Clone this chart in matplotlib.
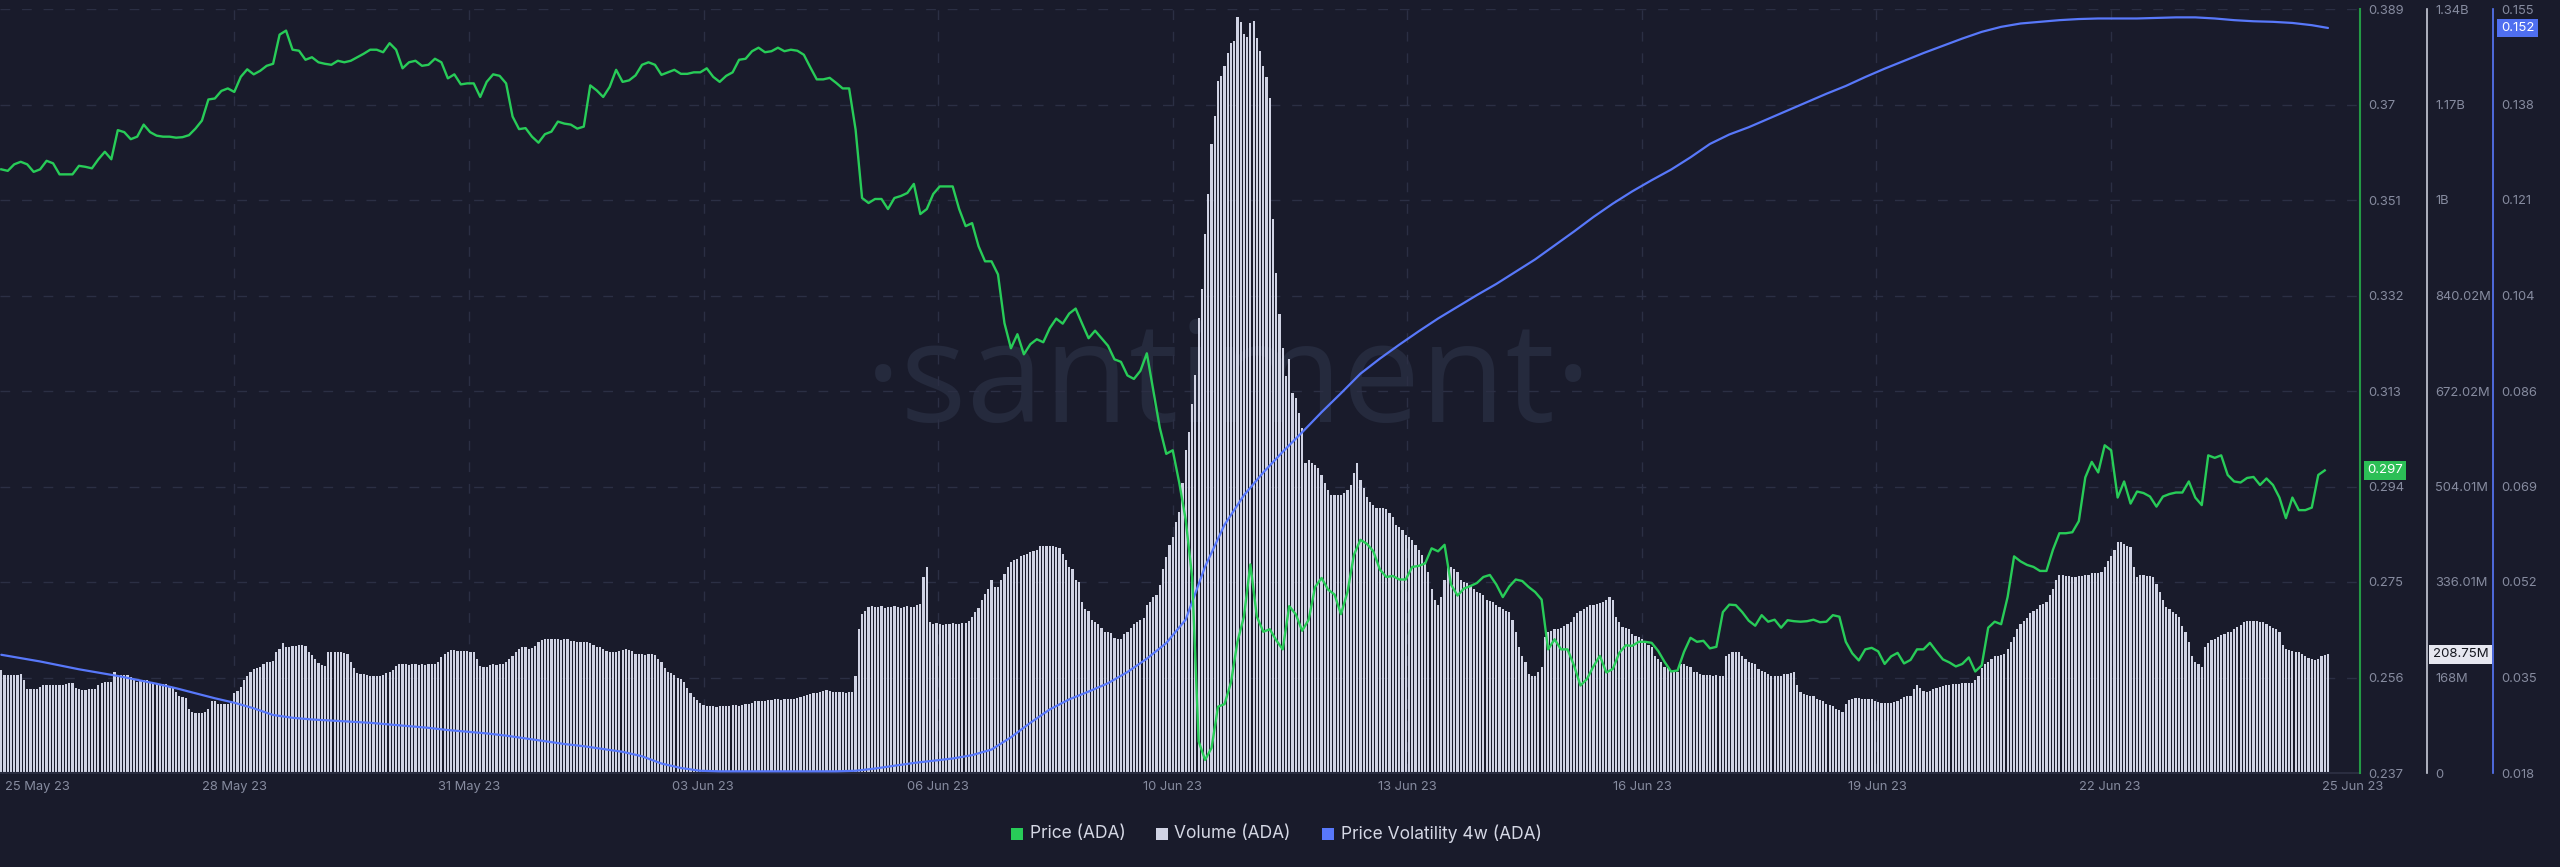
import numpy as np
import matplotlib
matplotlib.use('Agg')
import matplotlib.pyplot as plt
import matplotlib.transforms as mtrans
from matplotlib.patches import Rectangle
from matplotlib import font_manager

plt.rcParams['font.family'] = ['Inter', 'DejaVu Sans']
plt.rcParams['lines.scale_dashes'] = False

# ---------------- data ----------------
# ADA price, one value every 2 hours (25 May -> 24 Jun)
PRICE = [
0.3571,0.3568,0.3581,0.3586,0.3581,0.3566,0.3571,0.3588,0.3583,0.3561,
0.3561,0.3561,0.3578,0.3576,0.3573,0.3591,0.3606,0.3591,0.3649,0.3645,
0.3631,0.3636,0.3660,0.3645,0.3638,0.3636,0.3636,0.3634,0.3635,0.3639,
0.3652,0.3668,0.3710,0.3712,0.3727,0.3732,0.3725,0.3755,0.3770,0.3760,
0.3767,0.3777,0.3781,0.3839,0.3847,0.3809,0.3807,0.3789,0.3794,0.3784,
0.3781,0.3779,0.3787,0.3784,0.3787,0.3794,0.3801,0.3809,0.3809,0.3804,
0.3822,0.3809,0.3772,0.3784,0.3787,0.3777,0.3779,0.3791,0.3784,0.3752,
0.3760,0.3740,0.3742,0.3742,0.3715,0.3745,0.3760,0.3757,0.3742,0.3676,
0.3651,0.3653,0.3636,0.3624,0.3641,0.3646,0.3666,0.3662,0.3660,0.3652,
0.3656,0.3738,0.3728,0.3715,0.3735,0.3769,0.3745,0.3748,0.3758,0.3779,
0.3784,0.3779,0.3759,0.3764,0.3769,0.3761,0.3761,0.3764,0.3764,0.3772,
0.3755,0.3745,0.3757,0.3764,0.3789,0.3791,0.3806,0.3813,0.3804,0.3806,
0.3813,0.3806,0.3809,0.3807,0.3799,0.3774,0.3750,0.3750,0.3753,0.3743,
0.3732,0.3732,0.3650,0.3514,0.3504,0.3512,0.3512,0.3492,0.3514,0.3518,
0.3524,0.3542,0.3482,0.3492,0.3522,0.3537,0.3537,0.3537,0.3492,0.3458,
0.3464,0.3418,0.3388,0.3388,0.3362,0.3265,0.3215,0.3243,0.3203,0.3223,
0.3233,0.3227,0.3255,0.3274,0.3264,0.3284,0.3294,0.3264,0.3235,0.3250,
0.3235,0.3220,0.3193,0.3188,0.3161,0.3154,0.3170,0.3205,0.3131,0.3057,
0.3005,0.3012,0.2948,0.2874,0.2760,0.2433,0.2396,0.2420,0.2502,0.2507,
0.2550,0.2631,0.2681,0.2785,0.2681,0.2651,0.2656,0.2634,0.2616,0.2702,
0.2686,0.2653,0.2675,0.2740,0.2758,0.2735,0.2725,0.2686,0.2730,0.2804,
0.2834,0.2826,0.2811,0.2775,0.2760,0.2762,0.2755,0.2755,0.2780,0.2782,
0.2787,0.2817,0.2811,0.2824,0.2745,0.2723,0.2737,0.2742,0.2748,0.2760,
0.2764,0.2745,0.2720,0.2741,0.2755,0.2752,0.2740,0.2730,0.2715,0.2616,
0.2636,0.2616,0.2616,0.2584,0.2544,0.2557,0.2582,0.2603,0.2570,0.2577,
0.2609,0.2624,0.2623,0.2631,0.2631,0.2629,0.2613,0.2591,0.2572,0.2574,
0.2611,0.2639,0.2631,0.2633,0.2618,0.2621,0.2690,0.2705,0.2704,0.2690,
0.2673,0.2663,0.2684,0.2671,0.2675,0.2659,0.2674,0.2672,0.2671,0.2672,
0.2675,0.2670,0.2671,0.2684,0.2681,0.2631,0.2608,0.2594,0.2616,0.2619,
0.2612,0.2587,0.2602,0.2609,0.2588,0.2595,0.2616,0.2616,0.2629,0.2612,
0.2596,0.2590,0.2582,0.2587,0.2600,0.2572,0.2584,0.2659,0.2671,0.2666,
0.2720,0.2801,0.2791,0.2784,0.2780,0.2772,0.2772,0.2814,0.2847,0.2847,
0.2849,0.2871,0.2958,0.2989,0.2968,0.3022,0.3012,0.2918,0.2950,0.2906,
0.2930,0.2927,0.2920,0.2900,0.2920,0.2925,0.2928,0.2928,0.2950,0.2918,
0.2903,0.3002,0.2997,0.3002,0.2963,0.2950,0.2948,0.2957,0.2959,0.2943,
0.2956,0.2943,0.2918,0.2877,0.2918,0.2893,0.2893,0.2898,0.2963,0.2972,
]
PRICE_STEP_H = 2

# ADA volume in millions, hourly
VOLUME_M = [
181,172,172,172,172,172,174,163,148,147,
147,147,152,155,155,155,155,155,155,155,
157,158,158,150,147,146,146,147,147,148,
155,158,160,160,160,178,172,172,172,172,
169,165,160,162,164,163,159,158,157,157,
156,156,152,150,143,135,133,132,113,107,
105,105,106,108,113,127,127,121,121,121,
122,124,140,145,152,163,170,178,183,184,
186,192,195,196,197,212,218,228,222,222,
224,224,226,226,224,212,208,200,194,190,
188,212,213,213,212,213,211,210,196,185,
176,175,174,172,170,170,170,171,172,176,
178,182,188,192,191,191,190,191,191,190,
191,190,191,192,191,196,204,209,213,216,
216,215,214,214,215,213,212,200,188,187,
187,190,191,190,191,192,195,200,205,212,
218,222,221,218,220,224,230,234,236,236,
235,236,235,234,236,235,233,232,231,231,
230,230,229,226,222,221,218,214,213,212,
213,214,216,218,217,214,210,209,209,208,
209,209,207,200,195,185,178,176,172,168,
165,160,150,140,133,128,124,120,118,117,
117,116,117,118,117,118,119,119,118,120,
121,122,124,126,126,127,127,128,129,130,
130,129,130,131,131,130,132,134,136,138,
139,140,141,143,145,146,144,142,142,143,
142,141,142,143,171,253,280,285,292,293,
292,292,293,291,292,292,293,292,291,292,
293,292,292,295,298,345,362,266,262,263,
262,261,262,262,263,262,262,263,264,268,
275,283,290,305,315,323,340,327,328,340,
350,362,372,375,376,382,384,385,388,390,
392,399,399,400,399,399,398,396,386,375,
362,358,340,336,300,288,285,270,266,262,
255,248,248,246,237,235,235,245,248,255,
262,265,270,272,295,301,310,314,330,358,
380,401,415,441,460,511,568,600,650,700,
800,852,948,1019,1106,1155,1218,1226,1244,1266,
1285,1288,1330,1322,1300,1294,1320,1323,1293,1271,
1244,1225,1187,975,879,808,747,699,729,668,
660,633,607,546,550,546,541,537,524,511,
498,489,489,489,489,493,498,507,528,546,
515,502,485,476,472,467,467,467,465,458,
450,436,432,428,419,415,410,401,393,384,
371,353,323,305,296,310,340,362,362,358,
353,340,336,334,331,323,318,316,314,305,
303,301,296,292,288,285,283,270,248,222,
205,196,174,170,170,178,187,240,248,250,
253,254,255,259,262,266,275,282,285,288,
292,295,296,298,299,301,305,310,305,275,
266,257,255,253,244,241,240,235,231,226,
222,205,200,196,187,184,178,178,178,191,
191,189,187,178,177,174,173,172,172,171,
172,171,171,206,209,212,213,213,206,200,
196,194,191,183,180,177,174,170,170,170,
171,174,175,176,177,154,143,139,137,136,
135,130,128,126,122,119,117,113,110,108,
122,128,130,132,132,131,131,130,130,126,
125,124,124,124,124,125,126,130,133,135,
136,148,154,150,145,143,145,147,150,152,
153,154,154,156,156,157,158,158,159,159,
163,170,184,191,196,200,205,206,208,209,
218,231,240,253,262,268,273,281,285,288,
295,298,301,314,323,340,349,349,347,346,
345,345,346,347,349,349,351,352,352,353,
362,373,381,393,406,406,403,400,397,362,
345,349,348,347,346,345,332,318,305,292,
288,283,279,275,259,248,231,205,196,191,
187,222,229,234,236,240,242,245,248,248,
253,257,261,266,267,268,268,267,266,266,
262,259,255,253,248,226,218,216,215,213,
212,209,206,203,200,198,200,205,207,208.75,
]

# Price volatility 4w, one value every 6 hours, plus the last hourly value
VOLATILITY = [
0.0392,0.0386,0.0380,0.0373,0.0366,0.0360,0.0354,0.0347,0.0340,0.0332,
0.0323,0.0314,0.0306,0.0296,0.0284,0.0279,0.0276,0.0274,0.0272,0.0270,
0.0267,0.0264,0.0261,0.0257,0.0254,0.0251,0.0247,0.0242,0.0237,0.0232,
0.0228,0.0223,0.0218,0.0210,0.0197,0.0189,0.0184,0.0183,0.0183,0.0183,
0.0183,0.0183,0.0183,0.0183,0.0184,0.0188,0.0193,0.0198,0.0202,0.0206,
0.0212,0.0222,0.0244,0.0270,0.0294,0.0312,0.0326,0.0341,0.0361,0.0385,
0.0413,0.0455,0.0550,0.0625,0.0678,0.0719,0.0756,0.0791,0.0827,0.0861,
0.0896,0.0923,0.0948,0.0972,0.0995,0.1016,0.1037,0.1057,0.1079,0.1101,
0.1126,0.1151,0.1177,0.1201,0.1223,0.1243,0.1262,0.1284,0.1308,0.1325,
0.1338,0.1353,0.1368,0.1383,0.1398,0.1412,0.1428,0.1443,0.1457,0.1471,
0.1484,0.1497,0.1509,0.1518,0.1524,0.1527,0.1530,0.1532,0.1533,0.1533,
0.1533,0.1534,0.1535,0.1535,0.1533,0.1530,0.1528,0.1527,0.1525,0.1521,
0.1516,
]
VOLA_STEP_H = 6

DATE_LABELS = ['25 May 23', '28 May 23', '31 May 23', '03 Jun 23', '06 Jun 23',
               '10 Jun 23', '13 Jun 23', '16 Jun 23', '19 Jun 23', '22 Jun 23', '25 Jun 23']
DATE_LABEL_HOURS = [11.0, 72.2, 144.5, 216.8, 289.5, 361.8, 434.4, 507.0, 579.6, 651.6, 726.7]

PRICE_TICKS = ['0.237', '0.256', '0.275', '0.294', '0.313', '0.332', '0.351', '0.37', '0.389']
VOLUME_TICKS = ['0', '168M', '336.01M', '504.01M', '672.02M', '840.02M', '1B', '1.17B', '1.34B']
VOLA_TICKS = ['0.018', '0.035', '0.052', '0.069', '0.086', '0.104', '0.121', '0.138', '0.155']
PRICE_LIM = (0.237, 0.389)
VOLUME_LIM = (0, 1344.02)
VOLA_LIM = (0.018, 0.155)

LEGEND_LABELS = ['Price (ADA)', 'Volume (ADA)', 'Price Volatility 4w (ADA)']

# ---------------- style ----------------
BG = '#191b2b'
GRID = '#2b2f44'
GREEN = '#28cc58'
GREEN_AX = '#239a44'
BLUE = '#5878fa'
BAR = '#d0d3e4'
TICK = '#868b9f'

available = {f.name for f in font_manager.fontManager.ttflist}
wm_family = [f for f in ('Liberation Sans Narrow', 'Open Sans', 'DejaVu Sans') if f in available]
wm_size = 118 if wm_family[0] == 'Liberation Sans Narrow' else 100

W, H = 2560, 867
fig = plt.figure(figsize=(W / 100, H / 100), dpi=100, facecolor=BG)
right_px, top_px, bot_px = 2360, 9, 773
ax_v = fig.add_axes([0, (H - bot_px) / H, right_px / W, (bot_px - top_px) / H])
ax_v.set_facecolor(BG)
ax_b = ax_v.twinx()
ax_p = ax_v.twinx()

n_h = len(VOLUME_M)
xlim = (-0.4, -0.4 + right_px / 3.236)
for a in (ax_v, ax_b, ax_p):
    a.set_xlim(*xlim)
    for s in ('top', 'left', 'bottom'):
        a.spines[s].set_visible(False)

# watermark (baseline ~ y=422 px from top, centred near x=1229 px)
ax_v.text(1229 / right_px, (bot_px - 422) / (bot_px - top_px), '·santiment·',
          transform=ax_v.transAxes, ha='center', va='baseline',
          fontsize=wm_size, color='#252a3d', zorder=1, family=wm_family)

# grid
for k in range(1, 9):
    ax_v.axhline(VOLUME_LIM[1] * k / 8, color=GRID, lw=1.0, ls=(0, (7, 8.5)), zorder=1.5)
for k in range(1, 10):
    ax_v.axvline(xlim[0] + k * 234.5 / 3.236, color=GRID, lw=1.0, ls=(0, (7, 8.5)), zorder=1.5)

# volume bars
ax_v.bar(np.arange(n_h), VOLUME_M, width=0.68, color=BAR, linewidth=0, zorder=2)
ax_v.set_ylim(*VOLUME_LIM)

# volatility line
vola_x = np.append(np.arange(len(VOLATILITY) - 1) * VOLA_STEP_H, n_h - 1)
ax_b.plot(vola_x, VOLATILITY, color=BLUE, lw=1.6, solid_capstyle='round')
ax_b.set_ylim(*VOLA_LIM)

# price line
price_x = np.arange(len(PRICE)) * PRICE_STEP_H
ax_p.plot(price_x, PRICE, color=GREEN, lw=1.7, solid_joinstyle='round')
ax_p.set_ylim(*PRICE_LIM)

# axes / ticks
ax_v.yaxis.tick_right()
ax_v.spines['bottom'].set_visible(True)
ax_v.spines['bottom'].set_color('#2a2d40')
ax_v.spines['bottom'].set_linewidth(1.5)

ax_p.spines['right'].set_color(GREEN_AX)
ax_p.spines['right'].set_linewidth(1.5)
ax_v.spines['right'].set_position(('axes', 2427 / right_px))
ax_v.spines['right'].set_color('#c9ccd9')
ax_v.spines['right'].set_linewidth(1.2)
ax_b.spines['right'].set_position(('axes', 2493 / right_px))
ax_b.spines['right'].set_color(BLUE)
ax_b.spines['right'].set_linewidth(1.2)

ax_p.set_yticks(np.linspace(PRICE_LIM[0], PRICE_LIM[1], 9))
ax_p.set_yticklabels(PRICE_TICKS)
ax_v.set_yticks(np.linspace(VOLUME_LIM[0], VOLUME_LIM[1], 9))
ax_v.set_yticklabels(VOLUME_TICKS)
ax_b.set_yticks(np.linspace(VOLA_LIM[0], VOLA_LIM[1], 9))
ax_b.set_yticklabels(VOLA_TICKS)
for a in (ax_p, ax_v, ax_b):
    a.tick_params(axis='y', length=0, pad=5.8, labelsize=9.3, labelcolor=TICK)

ax_v.set_xticks(DATE_LABEL_HOURS)
ax_v.set_xticklabels(DATE_LABELS)
ax_v.tick_params(axis='x', length=0, pad=6, labelsize=9.3, labelcolor=TICK)

# value badges
tp = mtrans.blended_transform_factory(ax_p.transAxes, ax_p.transData)
ax_p.text(2385 / right_px, PRICE[-1], f'{PRICE[-1]:.3f}', transform=tp, ha='center', va='center',
          fontsize=9.5, color='white', zorder=10,
          bbox=dict(boxstyle='square,pad=0.25', fc='#2cbf56', ec='none'))
tv = mtrans.blended_transform_factory(ax_v.transAxes, ax_v.transData)
ax_v.text(2460.5 / right_px, VOLUME_M[-1], f'{VOLUME_M[-1]:.2f}M', transform=tv, ha='center',
          va='center', fontsize=9.5, color='#15171f', zorder=10,
          bbox=dict(boxstyle='square,pad=0.25', fc='#e6e7f0', ec='none'))
tb = mtrans.blended_transform_factory(ax_b.transAxes, ax_b.transData)
ax_b.text(2517.5 / right_px, VOLATILITY[-1], f'{VOLATILITY[-1]:.3f}', transform=tb, ha='center',
          va='center', fontsize=9.5, color='white', zorder=10,
          bbox=dict(boxstyle='square,pad=0.25', fc='#4f6ff0', ec='none'))

# legend
leg_colors = [GREEN, BAR, BLUE]
sq_x = [1011, 1156, 1322]
tx_x = [1030, 1174, 1341]
ly = 834
for lab, c, sx, tx in zip(LEGEND_LABELS, leg_colors, sq_x, tx_x):
    fig.patches.append(Rectangle((sx / W, (H - ly - 6) / H), 12 / W, 12 / H,
                                 transform=fig.transFigure, fc=c, ec='none'))
    fig.text(tx / W, (H - ly) / H, lab, ha='left', va='center', fontsize=12.5, color='#d5d8e5')

fig.savefig('out.png', dpi=100, facecolor=BG)
